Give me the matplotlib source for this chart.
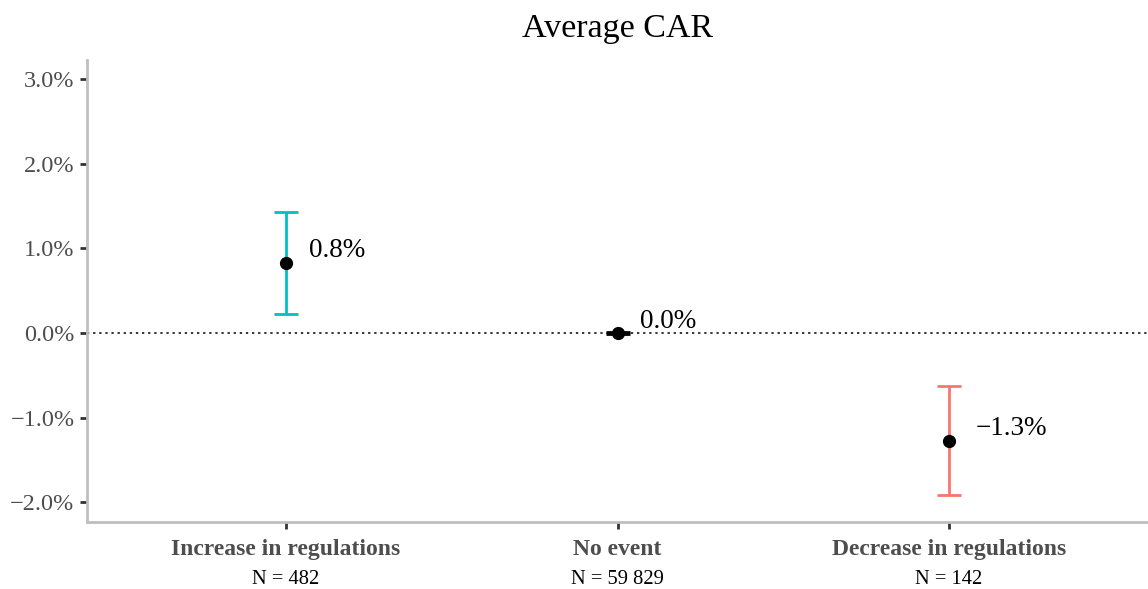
import numpy as np
import matplotlib.pyplot as plt
import matplotlib.transforms as mtransforms
from matplotlib.ticker import FuncFormatter

plt.rcParams['font.family'] = ['Liberation Serif', 'DejaVu Serif']

# Dados: CAR médio (%) e intervalos de confiança
grupos = ['Increase in regulations', 'No event', 'Decrease in regulations']
n_obs = ['N = 482', 'N = 59 829', 'N = 142']
car_medio = [0.83, 0.0, -1.27]
ic_inf = [0.22, -0.01, -1.91]
ic_sup = [1.43, 0.01, -0.63]
cores = ['#00BFC4', '#000000', '#F8766D']
rotulos = ['0.8%', '0.0%', '\u22121.3%']

fig = plt.figure(figsize=(11.48, 5.89), dpi=100)
ax = fig.add_axes([0.0758, 0.1138, 0.9242, 0.784])

x = np.arange(1, len(grupos) + 1)

ax.axhline(0, color='black', linestyle=(0, (1.5, 2.5)), linewidth=1.1, zorder=1)

for xi, m, lo, hi, c, r in zip(x, car_medio, ic_inf, ic_sup, cores, rotulos):
    ax.errorbar(xi, m, yerr=[[m - lo], [hi - m]], fmt='none', ecolor=c,
                elinewidth=2, capsize=8.3, capthick=2, zorder=2)
    ax.plot(xi, m, 'o', color='black', markersize=8.5, zorder=3)
    dx = 19 if m < 0 else 16.5
    ax.annotate(r, (xi, m), xytext=(dx, 8.5), textcoords='offset points',
                ha='left', va='center', fontsize=19.5, color='black')

ax.set_xlim(0.4, 3.6)
ax.set_ylim(-2.23, 3.22)
ax.set_yticks([-2, -1, 0, 1, 2, 3])
ax.yaxis.set_major_formatter(FuncFormatter(
    lambda v, p: ('\u2212' if v < 0 else '') + '%.1f%%' % abs(v)))

ax.set_xticks(x)
ax.set_xticklabels(grupos, fontweight='bold', color='#4d4d4d', fontsize=17)
for lbl in ax.get_yticklabels():
    lbl.set_color('#4d4d4d')
    lbl.set_fontsize(17.5)

ax.tick_params(axis='both', length=5, width=2, color='#333333')
ax.tick_params(axis='x', pad=7.5)
ax.tick_params(axis='y', pad=4)

# Linha com número de observações abaixo de cada grupo
trans = mtransforms.blended_transform_factory(ax.transData, fig.transFigure)
for xi, n in zip(x, n_obs):
    ax.text(xi, 1 - 580 / 589, n, transform=trans, ha='center', va='center',
            fontsize=14.8, color='black')

for s in ['top', 'right']:
    ax.spines[s].set_visible(False)
for s in ['left', 'bottom']:
    ax.spines[s].set_color('#bfbfbf')
    ax.spines[s].set_linewidth(2)

fig.text(618 / 1148, 1 - 28.5 / 589, 'Average CAR', ha='center', va='center',
         fontsize=24.5, color='black')

fig.savefig('out.png', dpi=100)
